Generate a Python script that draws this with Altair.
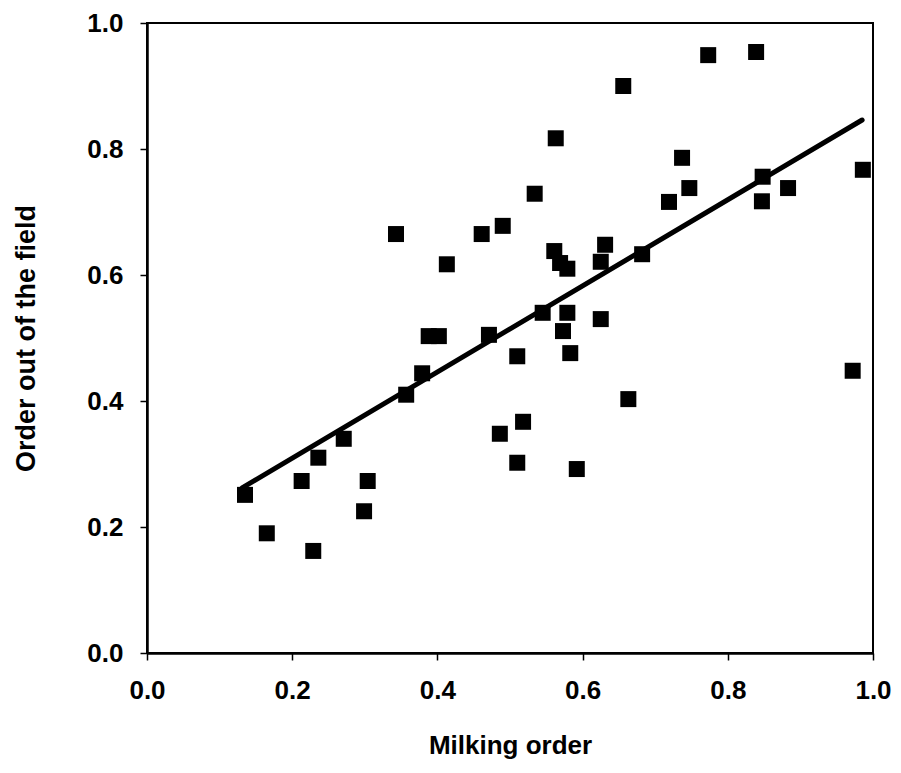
import altair as alt
import pandas as pd

# Scatter data: milking order vs order out of the field
milking_order = [0.135, 0.165, 0.213, 0.229, 0.236, 0.271, 0.299, 0.304, 0.343, 0.357,
                 0.379, 0.388, 0.402, 0.413, 0.461, 0.471, 0.486, 0.490, 0.510, 0.510,
                 0.518, 0.534, 0.545, 0.561, 0.563, 0.569, 0.573, 0.579, 0.579, 0.583,
                 0.592, 0.625, 0.625, 0.631, 0.656, 0.663, 0.682, 0.719, 0.737, 0.747,
                 0.773, 0.839, 0.848, 0.847, 0.883, 0.972, 0.986]
field_order = [0.251, 0.190, 0.273, 0.162, 0.310, 0.340, 0.225, 0.273, 0.665, 0.410,
               0.444, 0.503, 0.503, 0.617, 0.665, 0.505, 0.348, 0.678, 0.471, 0.302,
               0.367, 0.729, 0.540, 0.638, 0.817, 0.619, 0.511, 0.540, 0.610, 0.476,
               0.292, 0.621, 0.530, 0.648, 0.900, 0.403, 0.633, 0.716, 0.786, 0.738,
               0.949, 0.954, 0.756, 0.717, 0.738, 0.448, 0.767]

# Fitted regression line end points (as drawn)
line_x = [0.131, 0.985]
line_y = [0.262, 0.846]

ticks = [0.0, 0.2, 0.4, 0.6, 0.8, 1.0]

pts = pd.DataFrame({"x": milking_order, "y": field_order})
fit = pd.DataFrame({"x": line_x, "y": line_y})

FONT = "Liberation Sans"

xscale = alt.Scale(domain=[0, 1], nice=False, zero=False)
yscale = alt.Scale(domain=[0, 1], nice=False, zero=False)

xaxis = alt.Axis(values=ticks, format=".1f", title="Milking order", grid=False,
                 domainColor="black", domainWidth=2.5, tickColor="black", tickWidth=1.5,
                 tickSize=7, labelFont=FONT, labelFontWeight="bold", labelFontSize=26,
                 labelColor="black", labelPadding=17, titleFont=FONT, titleFontWeight="bold",
                 titleFontSize=26, titleColor="black", titlePadding=29, labelFlush=False)
yaxis = alt.Axis(values=ticks, format=".1f", title="Order out of the field", grid=False,
                 domainColor="black", domainWidth=2.5, tickColor="black", tickWidth=1.5,
                 tickSize=7, labelFont=FONT, labelFontWeight="bold", labelFontSize=26,
                 labelColor="black", labelPadding=17, titleFont=FONT, titleFontWeight="bold",
                 titleFontSize=27, titleColor="black", titlePadding=46, labelFlush=False)

scatter = alt.Chart(pts).mark_square(size=256, color="black", opacity=1).encode(
    x=alt.X("x:Q", scale=xscale, axis=xaxis),
    y=alt.Y("y:Q", scale=yscale, axis=yaxis),
)

line = alt.Chart(fit).mark_line(color="black", strokeWidth=5, strokeCap="round").encode(
    x=alt.X("x:Q", scale=xscale),
    y=alt.Y("y:Q", scale=yscale),
)

chart = alt.layer(line, scatter).properties(
    width=726, height=630,
    autosize=alt.AutoSizeParams(type="none"),
    padding={"left": 147, "top": 23, "right": 28, "bottom": 120},
    background="white",
).configure_view(stroke="black", strokeWidth=2)

chart.save("out.html", embed_options={"renderer": "svg", "actions": False})
